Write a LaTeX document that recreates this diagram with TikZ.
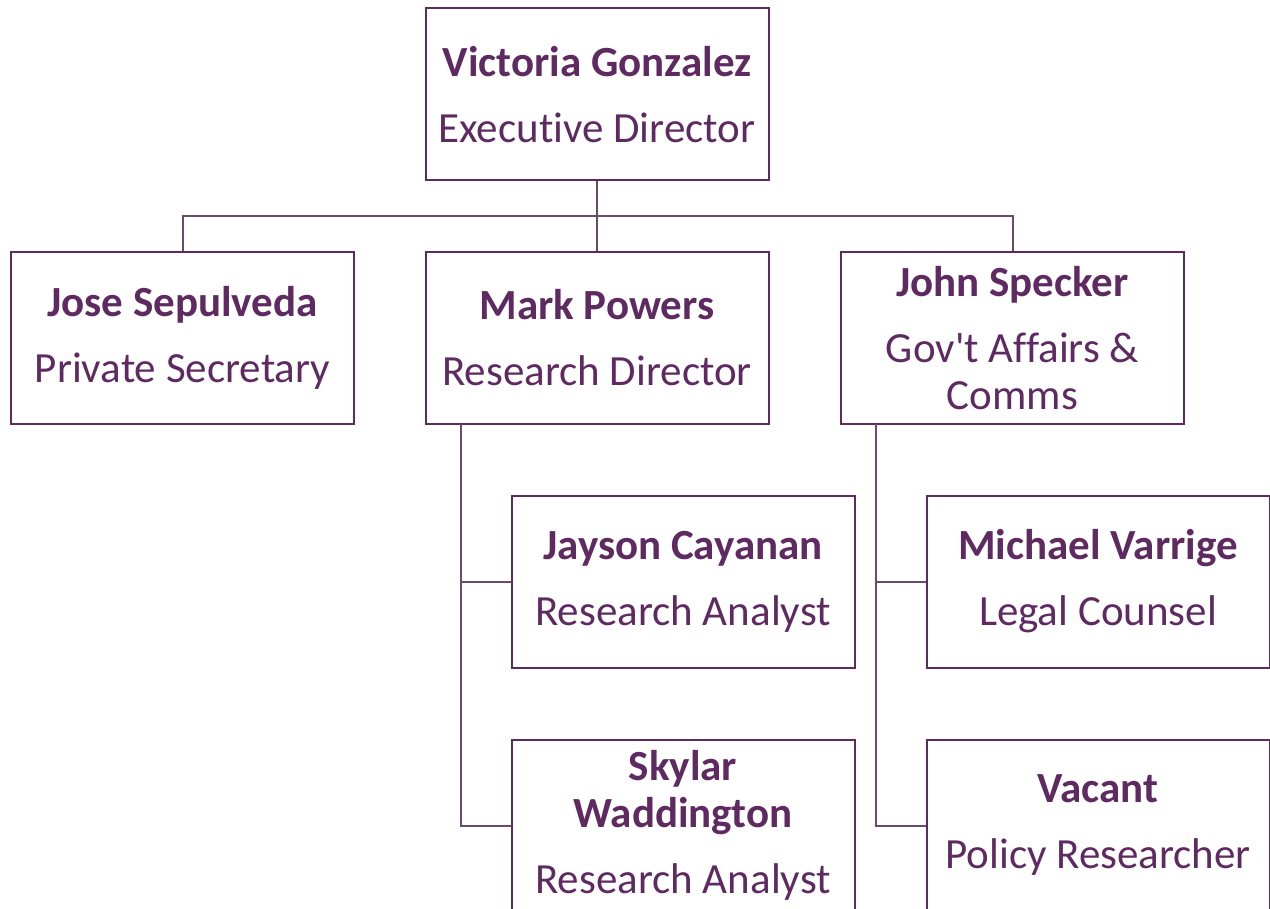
\documentclass[tikz,border=0pt]{standalone}
\usepackage{fontspec}
\setmainfont{Carlito}[Ligatures=NoCommon]
\newfontfamily\quotefont{Carlito}
\usepackage{tikz}
\usetikzlibrary{positioning}
\definecolor{plum}{HTML}{5E2A61}
\definecolor{wire}{HTML}{6A4A6E}
\def\person#1#2{\bfseries #1\\[9.5pt]\mdseries #2}

\begin{document}
\begin{tikzpicture}[x=0.5pt, y=-0.5pt,
	card/.style={draw=plum, line width=1pt, text=plum, align=center,
		minimum width=171.5pt, minimum height=86pt, inner sep=2pt,
		font=\fontsize{21.5}{23.5}\selectfont},
	link/.style={draw=wire, line width=1pt}]
	\useasboundingbox (0,0) rectangle (1270,909);

	\node[card] (vg) at (597,94.5) {\person{Victoria Gonzalez}{Executive Director}};
	\node[card] (js) at (182.5,338) {\person{Jose Sepulveda}{Private Secretary}};
	\node[card] (mp) at (597,338) {\person{Mark Powers}{Research Director}};
	\node[card] (jsp) at (1012.5,338) {\person{John Specker}{Gov{\quotefont'}t Affairs \&\\Comms}};
	\node[card] (jc) at (683,581.5) {\person{Jayson Cayanan}{Research Analyst}};
	\node[card] (sw) at (683,825.5) {\person{Skylar\\\bfseries Waddington}{Research Analyst}};
	\node[card] (mv) at (1098,581.5) {\person{Michael Varrige}{Legal Counsel}};
	\node[card] (vc) at (1098,825.5) {\person{Vacant}{Policy Researcher}};

	\coordinate (bar) at (597,216);
	\coordinate (mpspine) at (461,424);
	\coordinate (jspspine) at (876,424);

	\draw[link] (vg.south) -- (mp.north);
	\draw[link] (js.north) |- (bar) -| (jsp.north);
	\draw[link] (mpspine) |- (sw.west);
	\draw[link] (mpspine |- jc.west) -- (jc.west);
	\draw[link] (jspspine) |- (vc.west);
	\draw[link] (jspspine |- mv.west) -- (mv.west);
\end{tikzpicture}
\end{document}
